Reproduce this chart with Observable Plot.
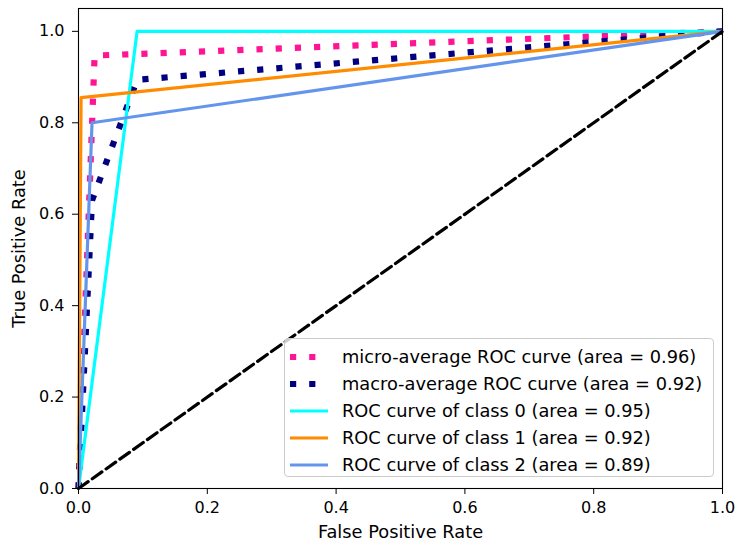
<!DOCTYPE html>
<html>
<head>
<meta charset="utf-8">
<script src="https://cdn.jsdelivr.net/npm/d3@7"></script>
<script src="https://cdn.jsdelivr.net/npm/@observablehq/plot@0.6"></script>
<style>
  html, body { margin: 0; padding: 0; background: #fff; }
  #wrap { position: relative; width: 738px; height: 542px; font-family: "DejaVu Sans", sans-serif; }
  #legend {
    position: absolute; left: 284px; top: 338px; width: 430px; height: 139px;
    box-sizing: border-box; border: 1px solid #cccccc; border-radius: 4px;
    background: rgba(255,255,255,0.8); padding-top: 4px;
  }
  .row { display: flex; align-items: center; height: 27px; }
  .row svg { margin-left: 5px; margin-right: 14px; flex: none; }
  .row span { font-size: 17.8px; color: #000; white-space: nowrap; }
</style>
</head>
<body>
<div id="wrap"></div>
<script>
// ---- data ----
const microFpr = [0, 0.025, 1];
const microTpr = [0, 0.947, 1];
const macroFpr = [0, 0.021, 0.091, 1];
const macroTpr = [0, 0.63, 0.894, 1];
const class0Fpr = [0, 0.091, 1];
const class0Tpr = [0, 1.0, 1];
const class1Fpr = [0, 0.004, 1];
const class1Tpr = [0, 0.855, 1];
const class2Fpr = [0, 0.021, 1];
const class2Tpr = [0, 0.80, 1];
const chanceFpr = [0, 1];
const chanceTpr = [0, 1];
const xTicks = [0, 0.2, 0.4, 0.6, 0.8, 1.0];
const yTicks = [0, 0.2, 0.4, 0.6, 0.8, 1.0];
const seriesNames = [
  "micro-average ROC curve (area = 0.96)",
  "macro-average ROC curve (area = 0.92)",
  "ROC curve of class 0 (area = 0.95)",
  "ROC curve of class 1 (area = 0.92)",
  "ROC curve of class 2 (area = 0.89)"
];
const seriesColors = ["deeppink", "navy", "aqua", "darkorange", "cornflowerblue"];
const seriesDotted = [true, true, false, false, false];

const toPts = (xs, ys) => xs.map((x, i) => ({x, y: ys[i]}));
const series = [
  toPts(microFpr, microTpr),
  toPts(macroFpr, macroTpr),
  toPts(class0Fpr, class0Tpr),
  toPts(class1Fpr, class1Tpr),
  toPts(class2Fpr, class2Tpr)
];

const lineMarks = series.map((pts, i) => Plot.line(pts, {
  x: "x", y: "y",
  stroke: seriesColors[i],
  strokeWidth: seriesDotted[i] ? 6.2 : 3.2,
  strokeDasharray: seriesDotted[i] ? "6.2,13" : null,
  strokeLinecap: "butt",
  strokeLinejoin: "round"
}));

const chart = Plot.plot({
  width: 738, height: 542,
  marginLeft: 78, marginRight: 16, marginTop: 8, marginBottom: 54,
  style: { fontFamily: "DejaVu Sans, sans-serif", fontSize: "16px", color: "#000", background: "#fff", overflow: "visible" },
  x: { domain: [0, 1] },
  y: { domain: [0, 1.05] },
  marks: [
    ...lineMarks,
    Plot.line(toPts(chanceFpr, chanceTpr), { x: "x", y: "y", stroke: "black", strokeWidth: 3.2, strokeDasharray: "11.8,5.1" }),
    Plot.frame({ stroke: "black", strokeWidth: 1.1 }),
    Plot.axisX({ ticks: xTicks, tickFormat: d => d.toFixed(1), tickSize: 6, tickPadding: 7, fontSize: 16, label: null }),
    Plot.axisY({ ticks: yTicks, tickFormat: d => d.toFixed(1), tickSize: 6, tickPadding: 8, fontSize: 16, label: null }),
    Plot.text(["False Positive Rate"], { frameAnchor: "bottom", dy: 44, lineAnchor: "middle", textAnchor: "middle", fontSize: 17.8, text: d => d }),
    Plot.text(["True Positive Rate"], { frameAnchor: "left", dx: -59, rotate: -90, lineAnchor: "middle", textAnchor: "middle", fontSize: 17.8, text: d => d })
  ]
});

const wrap = document.getElementById("wrap");
wrap.appendChild(chart);

// legend
const legend = document.createElement("div");
legend.id = "legend";
seriesNames.forEach((name, i) => {
  const row = document.createElement("div");
  row.className = "row";
  const sw = seriesDotted[i]
    ? `<svg width="38" height="10"><line x1="0" y1="5" x2="38" y2="5" stroke="${seriesColors[i]}" stroke-width="6.2" stroke-dasharray="6.2,13"/></svg>`
    : `<svg width="38" height="10"><line x1="0" y1="5" x2="38" y2="5" stroke="${seriesColors[i]}" stroke-width="3.2"/></svg>`;
  row.innerHTML = sw + `<span>${name}</span>`;
  legend.appendChild(row);
});
wrap.appendChild(legend);
</script>
</body>
</html>
